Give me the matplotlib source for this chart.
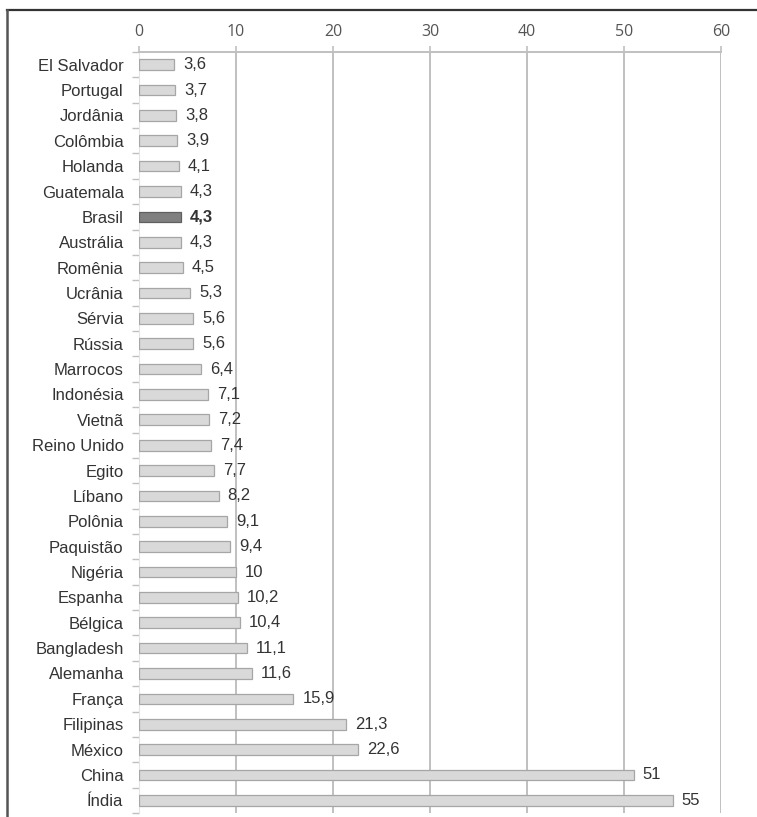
import numpy as np
import matplotlib.pyplot as plt
from matplotlib.lines import Line2D

# data
countries = ["El Salvador", "Portugal", "Jordânia", "Colômbia", "Holanda", "Guatemala",
             "Brasil", "Austrália", "Romênia", "Ucrânia", "Sérvia", "Rússia", "Marrocos",
             "Indonésia", "Vietnã", "Reino Unido", "Egito", "Líbano", "Polônia", "Paquistão",
             "Nigéria", "Espanha", "Bélgica", "Bangladesh", "Alemanha", "França", "Filipinas",
             "México", "China", "Índia"]
values = [3.6, 3.7, 3.8, 3.9, 4.1, 4.3, 4.3, 4.3, 4.5, 5.3, 5.6, 5.6, 6.4, 7.1, 7.2,
          7.4, 7.7, 8.2, 9.1, 9.4, 10, 10.2, 10.4, 11.1, 11.6, 15.9, 21.3, 22.6, 51, 55]
highlight = "Brasil"
xticks = [0, 10, 20, 30, 40, 50, 60]

fig = plt.figure(figsize=(7.57, 8.17), dpi=100)
ax = fig.add_axes([139 / 757, 1 - 813 / 817, (721 - 139) / 757, (813 - 52) / 817])

y = np.arange(len(countries))
face = ["#808080" if c == highlight else "#d9d9d9" for c in countries]
edge = ["#606060" if c == highlight else "#a6a6a6" for c in countries]
ax.barh(y, values, height=0.42, color=face, edgecolor=edge, linewidth=0.9, zorder=3)

ax.set_ylim(len(countries) - 0.5, -0.5)
ax.set_xlim(0, 60)

# value labels
for yi, v, c in zip(y, values, countries):
    txt = ("%g" % v).replace(".", ",")
    ax.annotate(txt, (v, yi), xytext=(6.5, 0), textcoords="offset points",
                va="center", ha="left", fontsize=12, color="#333333",
                family="Liberation Sans",
                fontweight="bold" if c == highlight else "normal", zorder=4)

# gridlines
for gx in xticks[1:]:
    ax.axvline(gx, color="#c0c0c0", lw=1.4, zorder=1)

ax.xaxis.tick_top()
ax.set_xticks(xticks)
ax.set_xticklabels([str(t) for t in xticks], family="Open Sans", fontsize=11.5, color="#555555")
ax.tick_params(axis="x", length=4, color="#c0c0c0", width=1.2, pad=5)

ax.set_yticks(y)
ax.set_yticklabels(countries, family="Liberation Sans", fontsize=12, color="#333333")
ax.tick_params(axis="y", which="major", length=0, pad=11)
ax.set_yticks(np.arange(len(countries) + 1) - 0.5, minor=True)
ax.tick_params(axis="y", which="minor", length=5, color="#c0c0c0", width=1)

for s in ["right", "bottom"]:
    ax.spines[s].set_visible(False)
ax.spines["top"].set_color("#c0c0c0")
ax.spines["top"].set_linewidth(1.4)
ax.spines["left"].set_color("#e4e4e4")
ax.spines["left"].set_linewidth(0.8)

# frame of the scanned page
fig.add_artist(Line2D([7 / 757, 1], [1 - 10 / 817, 1 - 10 / 817], color="#333333", lw=1.6))
fig.add_artist(Line2D([7 / 757, 7 / 757], [0, 1 - 10 / 817], color="#555555", lw=1.8))

fig.savefig("out.png", dpi=100)
